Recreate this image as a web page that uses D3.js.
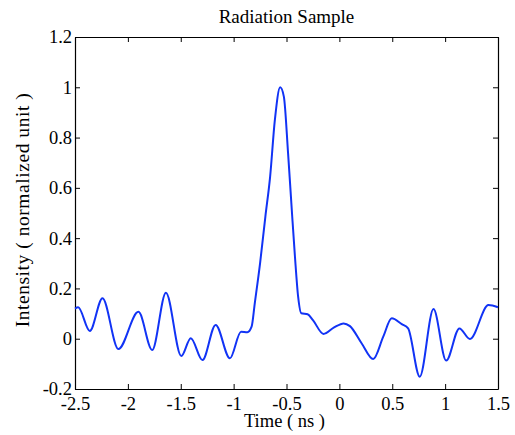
<!DOCTYPE html>
<html>
<head>
<meta charset="utf-8">
<script src="https://cdn.jsdelivr.net/npm/d3@7"></script>
<style>
  body { margin: 0; background: #fff; }
  svg { display: block; }
  text { font-family: "Liberation Serif", "Times New Roman", serif; fill: #000; }
</style>
</head>
<body>
<svg id="chart"></svg>
<script>
// Values
const timeNs = [-2.5, -2.47, -2.36, -2.24, -2.09, -1.90, -1.77, -1.64, -1.495, -1.405,
  -1.295, -1.17, -1.035, -0.93, -0.87, -0.83, -0.80, -0.75, -0.70, -0.655,
  -0.61, -0.56, -0.525, -0.485, -0.45, -0.42, -0.39, -0.36, -0.30, -0.25,
  -0.15, -0.05, 0.04, 0.10, 0.21, 0.32, 0.415, 0.495, 0.59, 0.65,
  0.76, 0.89, 1.01, 1.135, 1.235, 1.41, 1.5];
const intensity = [0.12, 0.125, 0.031, 0.161, -0.041, 0.107, -0.045, 0.183, -0.069, 0.002,
  -0.085, 0.055, -0.078, 0.028, 0.026, 0.048, 0.141, 0.30, 0.485, 0.644,
  0.87, 1.0, 0.963, 0.737, 0.512, 0.326, 0.167, 0.101, 0.097, 0.074,
  0.019, 0.045, 0.061, 0.05, -0.018, -0.081, 0.008, 0.081, 0.058, 0.041,
  -0.151, 0.118, -0.087, 0.041, -0.001, 0.134, 0.125];

const xTicks = [-2.5, -2, -1.5, -1, -0.5, 0, 0.5, 1, 1.5];
const yTicks = [-0.2, 0, 0.2, 0.4, 0.6, 0.8, 1, 1.2];

const titleText = "Radiation Sample";
const xLabel = "Time ( ns )";
const yLabel = "Intensity ( normalized unit )";

const W = 515, H = 435;
const margin = { top: 37, right: 17, bottom: 46, left: 75 };
const width = W - margin.left - margin.right;
const height = H - margin.top - margin.bottom;

const svg = d3.select("#chart").attr("width", W).attr("height", H);
const g = svg.append("g").attr("transform", `translate(${margin.left},${margin.top})`);

const x = d3.scaleLinear().domain([-2.5, 1.5]).range([0, width]);
const y = d3.scaleLinear().domain([-0.2, 1.2]).range([height, 0]);

const fmt = d => String(d);
const tickLen = 5;
const fontSize = "18.5px";

// box-style axes with inward ticks on all four sides
function styleAxis(sel) {
  sel.select(".domain").attr("stroke", "#000").attr("stroke-width", 1.2);
  sel.selectAll(".tick line").attr("stroke", "#000").attr("stroke-width", 1);
  sel.selectAll(".tick text").style("font-size", fontSize)
    .style("font-family", "'Liberation Serif', 'Times New Roman', serif");
}

const xBottom = g.append("g").attr("transform", `translate(0,${height})`)
  .call(d3.axisBottom(x).tickValues(xTicks).tickFormat(fmt)
    .tickSizeInner(-tickLen).tickSizeOuter(0).tickPadding(8));
styleAxis(xBottom);

const xTop = g.append("g")
  .call(d3.axisTop(x).tickValues(xTicks).tickFormat("")
    .tickSizeInner(-tickLen).tickSizeOuter(0));
styleAxis(xTop);

const yLeft = g.append("g")
  .call(d3.axisLeft(y).tickValues(yTicks).tickFormat(fmt)
    .tickSizeInner(-tickLen).tickSizeOuter(0).tickPadding(3));
styleAxis(yLeft);

const yRight = g.append("g").attr("transform", `translate(${width},0)`)
  .call(d3.axisRight(y).tickValues(yTicks).tickFormat("")
    .tickSizeInner(-tickLen).tickSizeOuter(0));
styleAxis(yRight);

// the signal
const data = timeNs.map((t, i) => [t, intensity[i]]);
const line = d3.line()
  .curve(d3.curveMonotoneX)
  .x(d => x(d[0]))
  .y(d => y(d[1]));

g.append("path")
  .datum(data)
  .attr("fill", "none")
  .attr("stroke", "#1133f5")
  .attr("stroke-width", 2)
  .attr("d", line);

// title and axis labels
svg.append("text")
  .attr("x", margin.left + width / 2)
  .attr("y", 23)
  .attr("text-anchor", "middle")
  .style("font-size", "19px")
  .text(titleText);

svg.append("text")
  .attr("x", margin.left + width / 2 - 2)
  .attr("y", 427)
  .attr("text-anchor", "middle")
  .style("font-size", fontSize)
  .text(xLabel);

svg.append("text")
  .attr("transform", "translate(28.5,210) rotate(-90)")
  .attr("text-anchor", "middle")
  .style("font-size", "19.5px")
  .style("letter-spacing", "0.55px")
  .text(yLabel);
</script>
</body>
</html>
